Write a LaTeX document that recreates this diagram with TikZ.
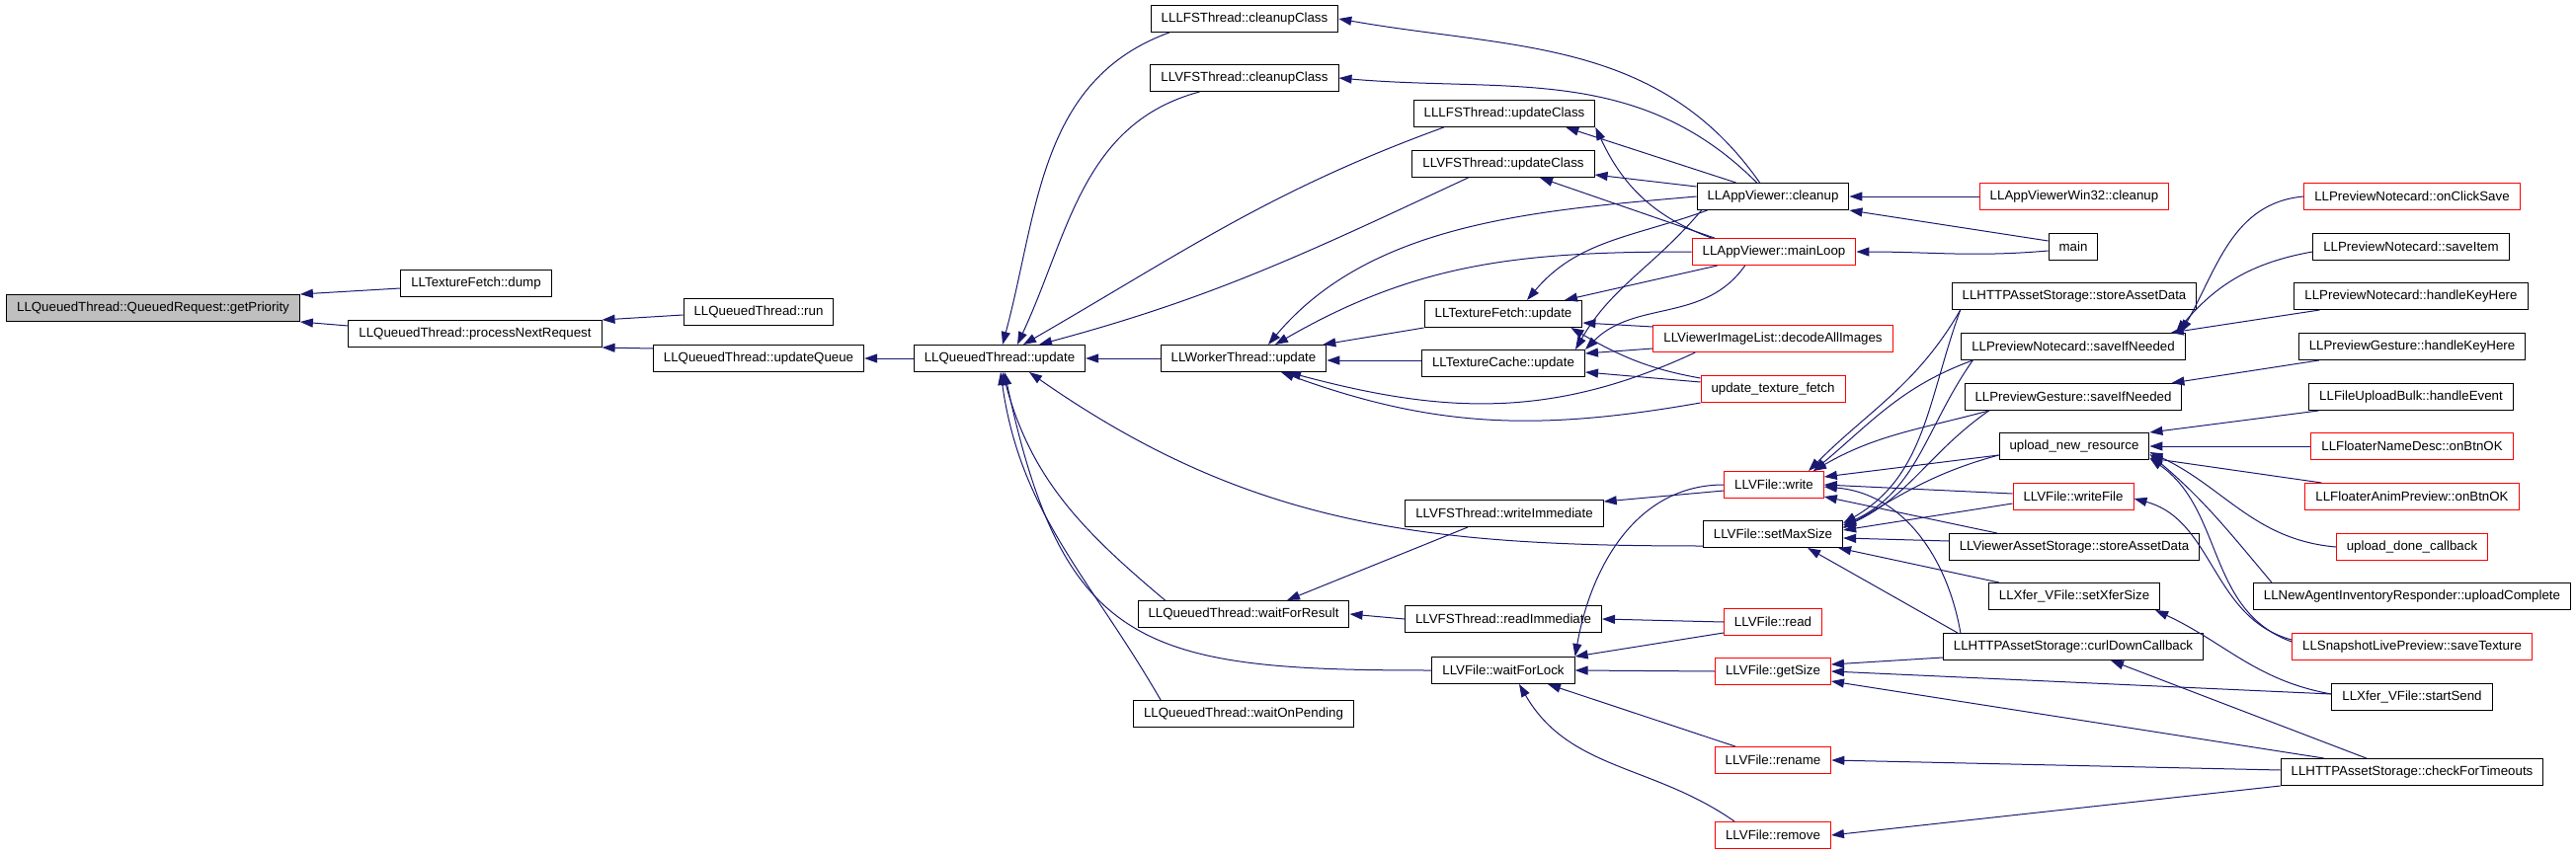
\documentclass[tikz,border=0pt]{standalone}
\usepackage{fontspec}
\setmainfont{Liberation Sans}
\usetikzlibrary{arrows.meta}

\definecolor{edgeblue}{RGB}{25,25,112}

\begin{document}
\begin{tikzpicture}[
    x=1pt, y=1pt,
    block/.style={
        rectangle,
        draw=black,
        fill=white,
        line width=1pt,
        minimum height=27pt,
        inner xsep=10.5pt,
        inner ysep=0pt,
        font=\fontsize{13.3}{15}\selectfont
    },
    trunc/.style={block, draw=red},
    root/.style={block, fill=black!25},
    arrow/.style={
        <-,
        >={Triangle[length=13pt,width=9pt]},
        draw=edgeblue,
        line width=1pt
    }
]
\useasboundingbox (0,0) rectangle (2608,-864);

% Colonne 1-4
\node[root] (gp) at (155,-312) {LLQueuedThread::QueuedRequest::getPriority};
\node[block] (dump) at (482,-287) {LLTextureFetch::dump};
\node[block] (pnr) at (481,-338) {LLQueuedThread::processNextRequest};
\node[block] (run) at (768,-316) {LLQueuedThread::run};
\node[block] (uq) at (768,-363) {LLQueuedThread::updateQueue};
\node[block] (qtu) at (1012,-363) {LLQueuedThread::update};

% Colonna 5
\node[block] (lfsclean) at (1260,-19) {LLLFSThread::cleanupClass};
\node[block] (vfsclean) at (1260,-79) {LLVFSThread::cleanupClass};
\node[block] (wtu) at (1259,-363) {LLWorkerThread::update};
\node[block] (wfr) at (1259,-622) {LLQueuedThread::waitForResult};
\node[block] (wop) at (1259,-723) {LLQueuedThread::waitOnPending};

% Colonna 6
\node[block] (lfsupd) at (1523,-115) {LLLFSThread::updateClass};
\node[block] (vfsupd) at (1522,-166) {LLVFSThread::updateClass};
\node[block] (tfu) at (1522,-318) {LLTextureFetch::update};
\node[block] (tcu) at (1522,-368) {LLTextureCache::update};
\node[block] (wimm) at (1523,-520) {LLVFSThread::writeImmediate};
\node[block] (rimm) at (1522,-627) {LLVFSThread::readImmediate};
\node[block] (wfl) at (1522,-679) {LLVFile::waitForLock};

% Colonna 7
\node[block] (avc) at (1795,-199) {LLAppViewer::cleanup};
\node[trunc] (avml) at (1796,-255) {LLAppViewer::mainLoop};
\node[trunc] (dai) at (1795,-343) {LLViewerImageList::decodeAllImages};
\node[trunc] (utf) at (1795,-394) {update\_texture\_fetch};
\node[trunc] (vw) at (1796,-491) {LLVFile::write};
\node[block] (sms) at (1795,-541) {LLVFile::setMaxSize};
\node[trunc] (vr) at (1795,-630) {LLVFile::read};
\node[trunc] (gs) at (1795,-680) {LLVFile::getSize};
\node[trunc] (ren) at (1795,-770) {LLVFile::rename};
\node[trunc] (rem) at (1795,-846) {LLVFile::remove};

% Colonna 8
\node[trunc] (w32) at (2100,-199) {LLAppViewerWin32::cleanup};
\node[block] (main) at (2099,-250) {main};
\node[block] (hsad) at (2100,-300) {LLHTTPAssetStorage::storeAssetData};
\node[block] (pnsin) at (2099,-351) {LLPreviewNotecard::saveIfNeeded};
\node[block] (pgsin) at (2099,-402) {LLPreviewGesture::saveIfNeeded};
\node[block] (unr) at (2100,-452) {upload\_new\_resource};
\node[trunc] (wf) at (2099,-503) {LLVFile::writeFile};
\node[block] (vasd) at (2100,-554) {LLViewerAssetStorage::storeAssetData};
\node[block] (sxs) at (2100,-604) {LLXfer\_VFile::setXferSize};
\node[block] (cdc) at (2099,-655) {LLHTTPAssetStorage::curlDownCallback};

% Colonna 9
\node[trunc] (ocs) at (2442,-199) {LLPreviewNotecard::onClickSave};
\node[block] (si) at (2441,-250) {LLPreviewNotecard::saveItem};
\node[block] (pnkh) at (2441,-300) {LLPreviewNotecard::handleKeyHere};
\node[block] (pgkh) at (2442,-351) {LLPreviewGesture::handleKeyHere};
\node[block] (fub) at (2441,-402) {LLFileUploadBulk::handleEvent};
\node[trunc] (fnd) at (2442,-452) {LLFloaterNameDesc::onBtnOK};
\node[trunc] (fap) at (2442,-503) {LLFloaterAnimPreview::onBtnOK};
\node[trunc] (udc) at (2442,-554) {upload\_done\_callback};
\node[block] (uc) at (2442,-604) {LLNewAgentInventoryResponder::uploadComplete};
\node[trunc] (st) at (2442,-655) {LLSnapshotLivePreview::saveTexture};
\node[block] (ss) at (2442,-706) {LLXfer\_VFile::startSend};
\node[block] (cft) at (2442,-782) {LLHTTPAssetStorage::checkForTimeouts};

% Catena principale
\draw[arrow] (gp.north east) -- ([yshift=-5]dump.west);
\draw[arrow] (gp.south east) -- ([yshift=8]pnr.west);
\draw[arrow] (pnr.north east) -- ([yshift=-3]run.west);
\draw[arrow] (pnr.south east) -- ([yshift=10]uq.west);
\draw[arrow] (uq.east) -- (qtu.west);

% Chiamanti di LLQueuedThread::update
\draw[arrow] ([xshift=3]qtu.north) to[out=75, in=200] ([xshift=19]lfsclean.south west);
\draw[arrow] ([xshift=18]qtu.north) to[out=65, in=195] ([xshift=50]vfsclean.south west);
\draw[arrow] ([xshift=24]qtu.north) to[out=30, in=200] ([xshift=31]lfsupd.south west);
\draw[arrow] ([xshift=40]qtu.north) to[out=15, in=205] ([xshift=57]vfsupd.south west);
\draw[arrow] (qtu.east) -- (wtu.west);
\draw[arrow] ([xshift=30]qtu.south) to[out=-35, in=180] ([yshift=-12]sms.west);
\draw[arrow] ([xshift=3]qtu.south) to[out=-75, in=140] ([xshift=28]wfr.north west);
\draw[arrow] ([xshift=5]qtu.south) to[out=-78, in=180, looseness=1.4] (wfl.west);
\draw[arrow] ([xshift=1]qtu.south) to[out=-82, in=120] ([xshift=28]wop.north west);

% Chiamanti di LLWorkerThread::update
\draw[arrow] ([xshift=-4]wtu.north east) -- (tfu.south west);
\draw[arrow] ([yshift=-2]wtu.east) -- ([yshift=3]tcu.west);
\draw[arrow] ([xshift=25]wtu.north) to[out=50, in=185, looseness=0.9] (avc.west);
\draw[arrow] ([xshift=32]wtu.north) to[out=30, in=180] (avml.west);
\draw[arrow] ([xshift=45]wtu.south) to[out=-15, in=205] ([xshift=43]dai.south west);
\draw[arrow] ([xshift=38]wtu.south) to[out=-20, in=190] (utf.south west);

% Chiamanti delle classi LFS/VFS
\draw[arrow] (lfsclean.east) to[out=-10, in=125] ([xshift=64]avc.north west);
\draw[arrow] (vfsclean.east) to[out=-5, in=135] ([xshift=61]avc.north west);
\draw[arrow] ([xshift=-30]lfsupd.south east) -- ([xshift=40]avc.north west);
\draw[arrow] (lfsupd.south east) to[out=-65, in=160] ([xshift=20]avml.north west);
\draw[arrow] ([yshift=3]vfsupd.south east) -- ([yshift=10]avc.west);
\draw[arrow] ([xshift=37]vfsupd.south) -- ([xshift=23]avml.north west);

% Chiamanti di LLTextureFetch::update e LLTextureCache::update
\draw[arrow] ([xshift=24]tfu.north) to[out=50, in=200] ([xshift=11]avc.south west);
\draw[arrow] ([xshift=62]tfu.north) -- ([xshift=26]avml.south west);
\draw[arrow] ([yshift=-9]tfu.east) -- ([yshift=12]dai.west);
\draw[arrow] ([xshift=-12]tfu.south east) to[out=-30, in=170] ([yshift=11]utf.west);
\draw[arrow] ([xshift=-10]tcu.north east) to[out=60, in=230] ([xshift=5]avc.south west);
\draw[arrow] (tcu.north east) to[out=45, in=235] ([xshift=54]avml.south west);
\draw[arrow] ([yshift=10]tcu.east) -- ([yshift=-10]dai.west);
\draw[arrow] ([yshift=-9]tcu.east) -- ([yshift=7]utf.west);

% LLAppViewer
\draw[arrow] (avc.east) -- (w32.west);
\draw[arrow] (avc.south east) -- ([yshift=6]main.west);
\draw[arrow] (avml.east) to[out=0, in=185] ([yshift=-4]main.west);

% LLVFile e LLVFSThread
\draw[arrow] ([yshift=12]wimm.east) -- ([yshift=-6]vw.west);
\draw[arrow] ([xshift=44]wfr.north) -- ([xshift=-37]wimm.south);
\draw[arrow] (wfr.east) -- (rimm.west);
\draw[arrow] (rimm.east) -- (vr.west);
\draw[arrow] (wfl.north east) to[out=80, in=180] (vw.west);
\draw[arrow] (wfl.north east) -- ([yshift=3]vr.south west);
\draw[arrow] (wfl.east) -- (gs.west);
\draw[arrow] ([xshift=45]wfl.south) -- ([xshift=21]ren.north west);
\draw[arrow] ([xshift=16]wfl.south) to[out=-60, in=145] ([xshift=20]rem.north west);

% Chiamanti di LLVFile::write
\draw[arrow] ([xshift=35]vw.north) to[out=45, in=240] ([xshift=9]hsad.south west);
\draw[arrow] ([xshift=40]vw.north) to[out=40, in=200] ([xshift=12]pnsin.south west);
\draw[arrow] ([xshift=40]vw.north) to[out=30, in=195] ([xshift=25]pgsin.south west);
\draw[arrow] ([yshift=8]vw.east) -- ([yshift=-9]unr.west);
\draw[arrow] (vw.east) -- ([yshift=3]wf.west);
\draw[arrow] ([yshift=-12]vw.east) -- ([xshift=49]vasd.north west);
\draw[arrow] ([yshift=-2]vw.east) to[out=-5, in=100] ([xshift=18]cdc.north west);

% Chiamanti di LLVFile::setMaxSize
\draw[arrow] ([yshift=11]sms.east) to[out=30, in=250] ([xshift=9]hsad.south west);
\draw[arrow] ([yshift=9]sms.east) to[out=25, in=235] ([xshift=12]pnsin.south west);
\draw[arrow] ([yshift=7]sms.east) to[out=25, in=215] ([xshift=25]pgsin.south west);
\draw[arrow] ([yshift=6]sms.east) to[out=30, in=195] ([yshift=-9]unr.west);
\draw[arrow] ([yshift=4]sms.east) -- ([yshift=-7]wf.west);
\draw[arrow] ([yshift=-4]sms.east) -- ([yshift=6]vasd.west);
\draw[arrow] ([xshift=-5]sms.south east) -- ([xshift=11]sxs.north west);
\draw[arrow] ([xshift=-36]sms.south east) -- ([xshift=15]cdc.north west);

% Chiamanti di getSize, rename, remove
\draw[arrow] ([yshift=7]gs.east) -- ([yshift=-11]cdc.west);
\draw[arrow] (gs.east) -- ([yshift=3]ss.west);
\draw[arrow] ([yshift=-10]gs.east) -- ([xshift=44]cft.north west);
\draw[arrow] (ren.east) -- ([yshift=2]cft.west);
\draw[arrow] (rem.east) -- (cft.south west);

% Colonna destra
\draw[arrow] ([xshift=-5]pnsin.north east) to[out=60, in=185] (ocs.west);
\draw[arrow] ([xshift=-10]pnsin.north east) to[out=50, in=190] ([yshift=-5]si.west);
\draw[arrow] ([xshift=-15]pnsin.north east) -- ([xshift=26]pnkh.south west);
\draw[arrow] ([xshift=-11]pgsin.north east) -- ([xshift=21]pgkh.south west);
\draw[arrow] (unr.north east) -- ([xshift=10]fub.south west);
\draw[arrow] (unr.east) -- (fnd.west);
\draw[arrow] ([yshift=-12]unr.east) -- ([xshift=17]fap.north west);
\draw[arrow] ([yshift=-6]unr.east) to[out=-25, in=175] (udc.west);
\draw[arrow] ([yshift=-8]unr.east) to[out=-40, in=130] ([xshift=19]uc.north west);
\draw[arrow] ([yshift=-12]unr.east) to[out=-35, in=160] ([yshift=5]st.west);
\draw[arrow] ([yshift=-2]wf.east) to[out=-15, in=165] ([yshift=7]st.west);
\draw[arrow] ([xshift=-5]sxs.south east) to[out=-25, in=170] ([yshift=3]ss.west);
\draw[arrow] ([xshift=38]cdc.south) -- ([xshift=87]cft.north west);

\end{tikzpicture}
\end{document}
